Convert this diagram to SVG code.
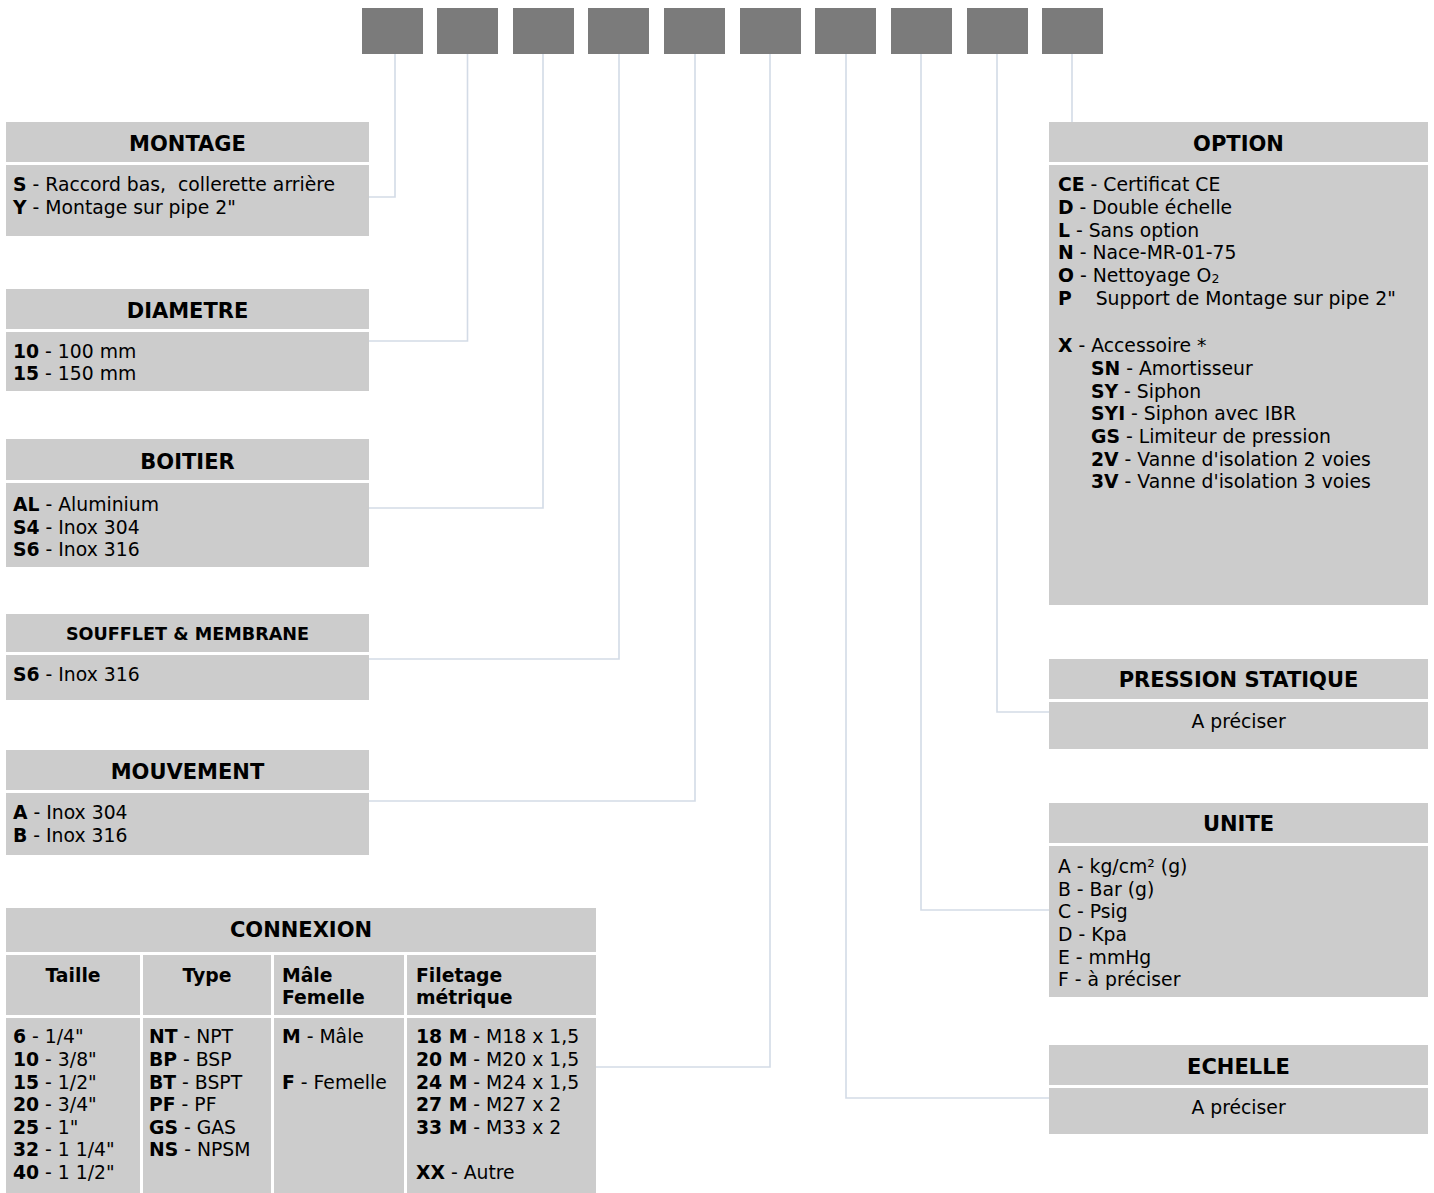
<svg xmlns="http://www.w3.org/2000/svg" width="1434" height="1193" viewBox="0 0 1434 1193">
<style>
.bg{fill:#ffffff}
.box{fill:#cccccc}
.sq{fill:#7b7b7b}
.t{font-family:"DejaVu Sans",Verdana,sans-serif;font-size:18.8px;fill:#000}
.h{font-family:"DejaVu Sans",Verdana,sans-serif;font-size:21px;font-weight:bold;fill:#000;text-anchor:middle}
.hs{font-size:17.6px}
.th{font-family:"DejaVu Sans",Verdana,sans-serif;font-size:18.8px;font-weight:bold;fill:#000}
.m{text-anchor:middle}
.b{font-weight:bold}
.c{fill:none;stroke:#d3dbe6;stroke-width:1.6}
</style>
<rect class="bg" x="0" y="0" width="1434" height="1193"/>

<g id="code-squares">
<rect class="sq" x="362" y="8" width="61" height="46"/>
<rect class="sq" x="437" y="8" width="61" height="46"/>
<rect class="sq" x="513" y="8" width="61" height="46"/>
<rect class="sq" x="588" y="8" width="61" height="46"/>
<rect class="sq" x="664" y="8" width="61" height="46"/>
<rect class="sq" x="740" y="8" width="61" height="46"/>
<rect class="sq" x="815" y="8" width="61" height="46"/>
<rect class="sq" x="891" y="8" width="61" height="46"/>
<rect class="sq" x="967" y="8" width="61" height="46"/>
<rect class="sq" x="1042" y="8" width="61" height="46"/>
</g>

<g id="connectors">
<path class="c" d="M395,54 V197 H369"/>
<path class="c" d="M467.5,54 V341 H369"/>
<path class="c" d="M543,54 V508 H369"/>
<path class="c" d="M619,54 V659 H369"/>
<path class="c" d="M695,54 V801 H369"/>
<path class="c" d="M770,54 V1067 H596"/>
<path class="c" d="M846,54 V1098 H1049"/>
<path class="c" d="M921,54 V910 H1049"/>
<path class="c" d="M997,54 V712 H1049"/>
<path class="c" d="M1072,54 V122"/>
</g>

<g id="montage">
<rect class="box" x="6" y="122" width="363" height="40"/>
<rect class="box" x="6" y="165" width="363" height="71"/>
<text class="h" x="187.5" y="151">MONTAGE</text>
<text class="t" x="13" y="191"><tspan class="b">S</tspan> - Raccord bas,&#160; collerette arrière</text>
<text class="t" x="13" y="214"><tspan class="b">Y</tspan> - Montage sur pipe 2"</text>
</g>

<g id="diametre">
<rect class="box" x="6" y="289" width="363" height="40"/>
<rect class="box" x="6" y="332" width="363" height="59"/>
<text class="h" x="187.5" y="318">DIAMETRE</text>
<text class="t" x="13" y="358"><tspan class="b">10</tspan> - 100 mm</text>
<text class="t" x="13" y="380"><tspan class="b">15</tspan> - 150 mm</text>
</g>

<g id="boitier">
<rect class="box" x="6" y="439" width="363" height="41"/>
<rect class="box" x="6" y="483" width="363" height="84"/>
<text class="h" x="187.5" y="468.5">BOITIER</text>
<text class="t" x="13" y="510.5"><tspan class="b">AL</tspan> - Aluminium</text>
<text class="t" x="13" y="533.5"><tspan class="b">S4</tspan> - Inox 304</text>
<text class="t" x="13" y="556"><tspan class="b">S6</tspan> - Inox 316</text>
</g>

<g id="soufflet">
<rect class="box" x="6" y="614" width="363" height="38"/>
<rect class="box" x="6" y="655" width="363" height="45"/>
<text class="h hs" x="187.5" y="640">SOUFFLET &amp; MEMBRANE</text>
<text class="t" x="13" y="680.5"><tspan class="b">S6</tspan> - Inox 316</text>
</g>

<g id="mouvement">
<rect class="box" x="6" y="750" width="363" height="40"/>
<rect class="box" x="6" y="793" width="363" height="62"/>
<text class="h" x="187.5" y="779">MOUVEMENT</text>
<text class="t" x="13" y="819"><tspan class="b">A</tspan> - Inox 304</text>
<text class="t" x="13" y="842"><tspan class="b">B</tspan> - Inox 316</text>
</g>

<g id="connexion">
<rect class="box" x="6" y="908" width="590" height="44"/>
<rect class="box" x="6" y="955" width="134" height="60"/>
<rect class="box" x="143" y="955" width="128" height="60"/>
<rect class="box" x="274" y="955" width="130" height="60"/>
<rect class="box" x="407" y="955" width="189" height="60"/>
<rect class="box" x="6" y="1018" width="134" height="175"/>
<rect class="box" x="143" y="1018" width="128" height="175"/>
<rect class="box" x="274" y="1018" width="130" height="175"/>
<rect class="box" x="407" y="1018" width="189" height="175"/>
<text class="h" x="301" y="937">CONNEXION</text>
<text class="th m" x="73" y="981.5">Taille</text>
<text class="th m" x="207" y="981.5">Type</text>
<text class="th" x="282" y="981.5">Mâle</text>
<text class="th" x="282" y="1004">Femelle</text>
<text class="th" x="416" y="981.5">Filetage</text>
<text class="th" x="416" y="1004">métrique</text>
<text class="t" x="13" y="1043"><tspan class="b">6</tspan> - 1/4"</text>
<text class="t" x="13" y="1066"><tspan class="b">10</tspan> - 3/8"</text>
<text class="t" x="13" y="1088.5"><tspan class="b">15</tspan> - 1/2"</text>
<text class="t" x="13" y="1111"><tspan class="b">20</tspan> - 3/4"</text>
<text class="t" x="13" y="1133.5"><tspan class="b">25</tspan> - 1"</text>
<text class="t" x="13" y="1156"><tspan class="b">32</tspan> - 1 1/4"</text>
<text class="t" x="13" y="1178.5"><tspan class="b">40</tspan> - 1 1/2"</text>
<text class="t" x="149" y="1043"><tspan class="b">NT</tspan> - NPT</text>
<text class="t" x="149" y="1066"><tspan class="b">BP</tspan> - BSP</text>
<text class="t" x="149" y="1088.5"><tspan class="b">BT</tspan> - BSPT</text>
<text class="t" x="149" y="1111"><tspan class="b">PF</tspan> - PF</text>
<text class="t" x="149" y="1133.5"><tspan class="b">GS</tspan> - GAS</text>
<text class="t" x="149" y="1156"><tspan class="b">NS</tspan> - NPSM</text>
<text class="t" x="282" y="1043"><tspan class="b">M</tspan> - Mâle</text>
<text class="t" x="282" y="1088.5"><tspan class="b">F</tspan> - Femelle</text>
<text class="t" x="416" y="1043"><tspan class="b">18 M</tspan> - M18 x 1,5</text>
<text class="t" x="416" y="1066"><tspan class="b">20 M</tspan> - M20 x 1,5</text>
<text class="t" x="416" y="1088.5"><tspan class="b">24 M</tspan> - M24 x 1,5</text>
<text class="t" x="416" y="1111"><tspan class="b">27 M</tspan> - M27 x 2</text>
<text class="t" x="416" y="1133.5"><tspan class="b">33 M</tspan> - M33 x 2</text>
<text class="t" x="416" y="1178.5"><tspan class="b">XX</tspan> - Autre</text>
</g>

<g id="option">
<rect class="box" x="1049" y="122" width="379" height="40"/>
<rect class="box" x="1049" y="165" width="379" height="440"/>
<text class="h" x="1238.5" y="151">OPTION</text>
<text class="t" x="1058" y="191"><tspan class="b">CE</tspan> - Certificat CE</text>
<text class="t" x="1058" y="214"><tspan class="b">D</tspan> - Double échelle</text>
<text class="t" x="1058" y="237"><tspan class="b">L</tspan> - Sans option</text>
<text class="t" x="1058" y="259"><tspan class="b">N</tspan> - Nace-MR-01-75</text>
<text class="t" x="1058" y="282"><tspan class="b">O</tspan> - Nettoyage O<tspan font-size="12.5" dy="1">2</tspan></text>
<text class="t" x="1058" y="305"><tspan class="b">P</tspan>&#160;&#160;&#160;&#160;Support de Montage sur pipe 2"</text>
<text class="t" x="1058" y="352"><tspan class="b">X</tspan> - Accessoire *</text>
<text class="t" x="1091" y="375"><tspan class="b">SN</tspan> - Amortisseur</text>
<text class="t" x="1091" y="398"><tspan class="b">SY</tspan> - Siphon</text>
<text class="t" x="1091" y="420"><tspan class="b">SYI</tspan> - Siphon avec IBR</text>
<text class="t" x="1091" y="443"><tspan class="b">GS</tspan> - Limiteur de pression</text>
<text class="t" x="1091" y="466"><tspan class="b">2V</tspan> - Vanne d'isolation 2 voies</text>
<text class="t" x="1091" y="488"><tspan class="b">3V</tspan> - Vanne d'isolation 3 voies</text>
</g>

<g id="pression-statique">
<rect class="box" x="1049" y="659" width="379" height="40"/>
<rect class="box" x="1049" y="702" width="379" height="47"/>
<text class="h" x="1238.5" y="687">PRESSION STATIQUE</text>
<text class="t m" x="1238.5" y="727.5">A préciser</text>
</g>

<g id="unite">
<rect class="box" x="1049" y="803" width="379" height="40"/>
<rect class="box" x="1049" y="846" width="379" height="151"/>
<text class="h" x="1238.5" y="831">UNITE</text>
<text class="t" x="1058" y="873">A - kg/cm² (g)</text>
<text class="t" x="1058" y="895.5">B - Bar (g)</text>
<text class="t" x="1058" y="918">C - Psig</text>
<text class="t" x="1058" y="941">D - Kpa</text>
<text class="t" x="1058" y="963.5">E - mmHg</text>
<text class="t" x="1058" y="986">F - à préciser</text>
</g>

<g id="echelle">
<rect class="box" x="1049" y="1045" width="379" height="40"/>
<rect class="box" x="1049" y="1088" width="379" height="46"/>
<text class="h" x="1238.5" y="1074">ECHELLE</text>
<text class="t m" x="1238.5" y="1114">A préciser</text>
</g>
</svg>
